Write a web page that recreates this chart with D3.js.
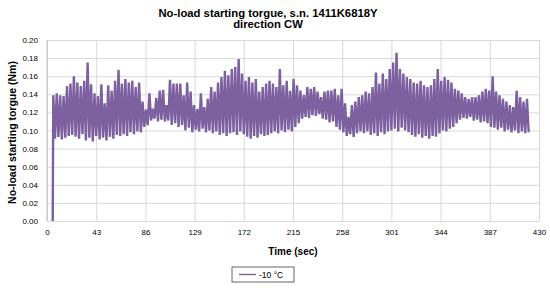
<!DOCTYPE html>
<html>
<head>
<meta charset="utf-8">
<script src="https://cdn.jsdelivr.net/npm/d3@7"></script>
<style>
  body { margin: 0; background: #fff; }
  text { font-family: "Liberation Sans", Arial, sans-serif; fill: #000; }
  .title, .axis-label { font-weight: bold; }
</style>
</head>
<body>
<div id="chart"></div>
<script>
// Data
const titleLines = ["No-load starting torgue, s.n. 1411K6818Y", "direction CW"];
const xTicks = [0, 43, 86, 129, 172, 215, 258, 301, 344, 387, 430];
const yTicks = [0, 0.02, 0.04, 0.06, 0.08, 0.10, 0.12, 0.14, 0.16, 0.18, 0.20];
const seriesName = "-10 °C";

// first sample (sec) and value, then one peak + one trough every 3 sec
const startTime = 5;
const startValue = 0.0;
const step = 3;
const peaks = [
  0.139, 0.141, 0.139, 0.138, 0.149, 0.152, 0.160, 0.153, 0.149, 0.155,
  0.175, 0.151, 0.141, 0.138, 0.151, 0.130, 0.150, 0.144, 0.155, 0.167,
  0.152, 0.157, 0.153, 0.155, 0.148, 0.153, 0.132, 0.123, 0.141, 0.124,
  0.136, 0.144, 0.145, 0.128, 0.156, 0.152, 0.152, 0.152, 0.139, 0.153,
  0.143, 0.128, 0.124, 0.141, 0.126, 0.135, 0.148, 0.143, 0.153, 0.159,
  0.166, 0.161, 0.168, 0.170, 0.179, 0.163, 0.155, 0.159, 0.153, 0.157,
  0.143, 0.148, 0.152, 0.155, 0.152, 0.148, 0.168, 0.150, 0.155, 0.144,
  0.157, 0.150, 0.144, 0.139, 0.148, 0.146, 0.148, 0.143, 0.137, 0.143,
  0.144, 0.144, 0.146, 0.139, 0.146, 0.130, 0.115, 0.128, 0.132, 0.137,
  0.139, 0.143, 0.141, 0.148, 0.164, 0.152, 0.163, 0.157, 0.168, 0.175,
  0.186, 0.168, 0.163, 0.159, 0.157, 0.153, 0.152, 0.155, 0.150, 0.148,
  0.150, 0.157, 0.168, 0.155, 0.159, 0.156, 0.153, 0.146, 0.144, 0.141,
  0.137, 0.135, 0.137, 0.137, 0.139, 0.143, 0.146, 0.144, 0.160, 0.143,
  0.139, 0.135, 0.132, 0.128, 0.126, 0.144, 0.137, 0.132, 0.135
];
const troughs = [
  0.091, 0.093, 0.090, 0.092, 0.094, 0.095, 0.093, 0.091, 0.096, 0.089,
  0.092, 0.088, 0.094, 0.090, 0.092, 0.089, 0.093, 0.091, 0.095, 0.094,
  0.096, 0.094, 0.098, 0.096, 0.099, 0.098, 0.104, 0.106, 0.111, 0.113,
  0.110, 0.112, 0.110, 0.111, 0.106, 0.108, 0.104, 0.106, 0.100, 0.103,
  0.098, 0.101, 0.099, 0.102, 0.098, 0.100, 0.097, 0.099, 0.095, 0.097,
  0.094, 0.097, 0.098, 0.095, 0.099, 0.096, 0.093, 0.091, 0.094, 0.092,
  0.096, 0.094, 0.095, 0.097, 0.099, 0.097, 0.100, 0.098, 0.101, 0.099,
  0.104, 0.108, 0.113, 0.115, 0.114, 0.117, 0.116, 0.118, 0.113, 0.112,
  0.109, 0.110, 0.104, 0.101, 0.098, 0.094, 0.096, 0.093, 0.097, 0.099,
  0.097, 0.099, 0.095, 0.097, 0.094, 0.098, 0.096, 0.099, 0.100, 0.102,
  0.099, 0.103, 0.100, 0.098, 0.095, 0.093, 0.096, 0.092, 0.094, 0.091,
  0.094, 0.093, 0.097, 0.100, 0.099, 0.102, 0.104, 0.108, 0.112, 0.114,
  0.113, 0.115, 0.111, 0.112, 0.109, 0.110, 0.108, 0.104, 0.103, 0.101,
  0.103, 0.099, 0.101, 0.098, 0.100, 0.097, 0.099, 0.097, 0.098
];

// Build the time series
const points = [{ t: startTime, v: startValue }];
peaks.forEach((p, i) => {
  points.push({ t: startTime + 0.5 + step * i, v: p });
  points.push({ t: startTime + 2 + step * i, v: troughs[i] });
});

const W = 550, H = 288;
const plot = { left: 47, right: 539, top: 40, bottom: 221 };

const svg = d3.select("#chart").append("svg")
  .attr("width", W)
  .attr("height", H);

const x = d3.scaleLinear().domain([0, 430]).range([plot.left, plot.right]);
const y = d3.scaleLinear().domain([0, 0.2]).range([plot.bottom, plot.top]);

// Gridlines
svg.append("g")
  .attr("transform", `translate(0,${plot.bottom})`)
  .call(d3.axisBottom(x).tickValues(xTicks).tickSize(-(plot.bottom - plot.top)).tickFormat(""))
  .call(g => g.select(".domain").remove())
  .selectAll("line").attr("stroke", "#d9d9d9");

svg.append("g")
  .attr("transform", `translate(${plot.left},0)`)
  .call(d3.axisLeft(y).tickValues(yTicks).tickSize(-(plot.right - plot.left)).tickFormat(""))
  .call(g => g.select(".domain").remove())
  .selectAll("line").attr("stroke", "#d9d9d9");

// Left axis line
svg.append("line")
  .attr("x1", plot.left).attr("x2", plot.left)
  .attr("y1", plot.top).attr("y2", plot.bottom)
  .attr("stroke", "#bfbfbf");

// Tick labels
svg.append("g")
  .attr("transform", `translate(0,${plot.bottom + 5})`)
  .call(d3.axisBottom(x).tickValues(xTicks).tickSize(0).tickFormat(d3.format("d")))
  .call(g => g.select(".domain").remove())
  .selectAll("text")
  .style("font-size", "8px")
  .style("font-family", "Liberation Sans, Arial, sans-serif")
  .attr("fill", "#000");

svg.append("g")
  .attr("transform", `translate(${plot.left - 6},0)`)
  .call(d3.axisLeft(y).tickValues(yTicks).tickSize(0).tickFormat(d3.format(".2f")))
  .call(g => g.select(".domain").remove())
  .selectAll("text")
  .style("font-size", "8px")
  .style("font-family", "Liberation Sans, Arial, sans-serif")
  .attr("fill", "#000");

// Series line
const line = d3.line()
  .x(d => x(d.t))
  .y(d => y(d.v));

svg.append("path")
  .datum(points)
  .attr("fill", "none")
  .attr("stroke", "#7d60a0")
  .attr("stroke-width", 2.4)
  .attr("stroke-linejoin", "bevel")
  .attr("d", line);

// Title
svg.append("text")
  .attr("class", "title")
  .attr("x", 268)
  .attr("y", 16.5)
  .style("text-anchor", "middle")
  .style("font-size", "11.3px")
  .text(titleLines[0]);

svg.append("text")
  .attr("class", "title")
  .attr("x", 268)
  .attr("y", 28)
  .style("text-anchor", "middle")
  .style("font-size", "11.3px")
  .text(titleLines[1]);

// Axis labels
svg.append("text")
  .attr("class", "axis-label")
  .attr("x", (plot.left + plot.right) / 2)
  .attr("y", 255)
  .style("text-anchor", "middle")
  .style("font-size", "10px")
  .text("Time (sec)");

svg.append("text")
  .attr("class", "axis-label")
  .attr("transform", `translate(15.5,${(plot.top + plot.bottom) / 2 + 2}) rotate(-90)`)
  .style("text-anchor", "middle")
  .style("font-size", "10.5px")
  .text("No-load starting torgue (Nm)");

// Legend
const legend = svg.append("g").attr("transform", "translate(232,267)");
legend.append("rect")
  .attr("width", 62)
  .attr("height", 15)
  .attr("fill", "#fff")
  .attr("stroke", "#404040")
  .attr("stroke-width", 0.8);
legend.append("line")
  .attr("x1", 7).attr("x2", 24)
  .attr("y1", 7.5).attr("y2", 7.5)
  .attr("stroke", "#7d60a0")
  .attr("stroke-width", 1.4);
legend.append("text")
  .attr("x", 27)
  .attr("y", 11)
  .style("font-size", "8.5px")
  .text(seriesName);
</script>
</body>
</html>
